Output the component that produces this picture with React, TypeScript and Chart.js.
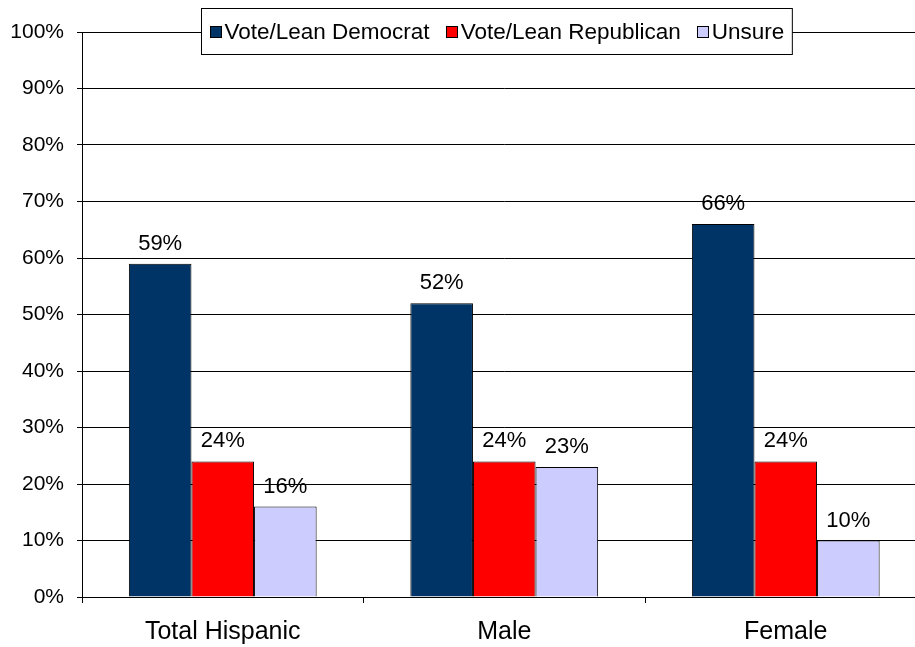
import React, { useEffect, useRef } from "react";
import { Chart, registerables } from "chart.js";

Chart.register(...registerables);

const categories = ["Total Hispanic", "Male", "Female"];
const seriesNames = ["Vote/Lean Democrat", "Vote/Lean Republican", "Unsure"];
const democrat = [59, 52, 66];
const republican = [24, 24, 24];
const unsure = [16, 23, 10];
const seriesColors = ["#003366", "#FF0000", "#CCCCFF"];

const FONT = "'Liberation Sans', Arial, Helvetica, sans-serif";

const valueLabels = {
  id: "valueLabels",
  afterDatasetsDraw(chart: any) {
    const ctx = chart.ctx;
    ctx.save();
    ctx.font = `22px ${FONT}`;
    ctx.fillStyle = "#000";
    ctx.textAlign = "center";
    ctx.textBaseline = "alphabetic";
    chart.data.datasets.forEach((ds: any, di: number) => {
      const meta = chart.getDatasetMeta(di);
      meta.data.forEach((bar: any, i: number) => {
        ctx.fillText(ds.data[i] + "%", bar.x, bar.y - 14);
      });
    });
    ctx.restore();
  },
};

const boxedLegend = {
  id: "boxedLegend",
  afterDraw(chart: any) {
    const ctx = chart.ctx;
    ctx.save();
    ctx.font = `22.5px ${FONT}`;
    const sq = 11;
    const sqGap = 4;
    const itemGap = 16;
    const pad = 8;
    const items = chart.data.datasets.map((ds: any) => ({
      label: ds.label,
      color: ds.backgroundColor,
      w: ctx.measureText(ds.label).width,
    }));
    let total = pad * 2;
    items.forEach((it: any, i: number) => {
      total += sq + sqGap + it.w + (i > 0 ? itemGap : 0);
    });
    const cx = 496.5;
    const top = 8;
    const h = 46;
    const left = Math.round(cx - total / 2) + 0.5;
    ctx.fillStyle = "#fff";
    ctx.fillRect(left, top + 0.5, total, h);
    ctx.strokeStyle = "#000";
    ctx.lineWidth = 1;
    ctx.strokeRect(left, top + 0.5, total, h);
    const cy = top + h / 2 + 0.5;
    let x = left + pad;
    ctx.textBaseline = "middle";
    ctx.textAlign = "left";
    items.forEach((it: any, i: number) => {
      if (i > 0) x += itemGap;
      const sx = Math.round(x) + 0.5;
      const sy = Math.round(cy - sq / 2) + 0.5;
      ctx.fillStyle = it.color;
      ctx.fillRect(sx, sy, sq, sq);
      ctx.strokeStyle = "#000";
      ctx.strokeRect(sx, sy, sq, sq);
      x += sq + sqGap;
      ctx.fillStyle = "#000";
      ctx.fillText(it.label, x, cy + 1);
      x += it.w;
    });
    ctx.restore();
  },
};

export default function App() {
  const canvasRef = useRef<HTMLCanvasElement | null>(null);

  useEffect(() => {
    document.body.style.margin = "0";
    document.body.style.overflow = "hidden";
    const canvas = canvasRef.current;
    if (!canvas) return;
    const values = [democrat, republican, unsure];
    const chart = new Chart(canvas, {
      type: "bar",
      data: {
        labels: categories,
        datasets: seriesNames.map((name, i) => ({
          label: name,
          data: values[i],
          backgroundColor: seriesColors[i],
          borderColor: "#000",
          borderWidth: 1,
          categoryPercentage: 0.667,
          barPercentage: 1.0,
        })),
      },
      options: {
        animation: false,
        responsive: false,
        maintainAspectRatio: false,
        layout: { padding: { top: 32, right: 8.5, left: 0, bottom: 0 } },
        plugins: {
          legend: { display: false },
          tooltip: { enabled: false },
          title: { display: false },
        },
        scales: {
          x: {
            grid: {
              offset: true,
              drawOnChartArea: false,
              drawTicks: true,
              tickLength: 6,
              color: "#000",
            },
            border: { display: true, color: "#000" },
            ticks: {
              color: "#000",
              font: { size: 25, family: FONT },
              padding: 14,
            },
            afterFit: (s: any) => {
              s.height = 50;
            },
          },
          y: {
            min: 0,
            max: 100,
            ticks: {
              stepSize: 10,
              color: "#000",
              font: { size: 21, family: FONT },
              padding: 13,
              callback: (v: any) => v + "%",
            },
            grid: { color: "#000", tickLength: 5 },
            border: { display: true, color: "#000" },
            afterFit: (s: any) => {
              s.width = 82;
            },
          },
        },
      },
      plugins: [valueLabels, boxedLegend],
    });
    return () => chart.destroy();
  }, []);

  return (
    <div
      style={{
        position: "fixed",
        left: 0,
        top: 0,
        width: 915,
        height: 647,
        overflow: "hidden",
        background: "#fff",
      }}
    >
      <canvas ref={canvasRef} width={935} height={647} style={{ display: "block" }} />
    </div>
  );
}
